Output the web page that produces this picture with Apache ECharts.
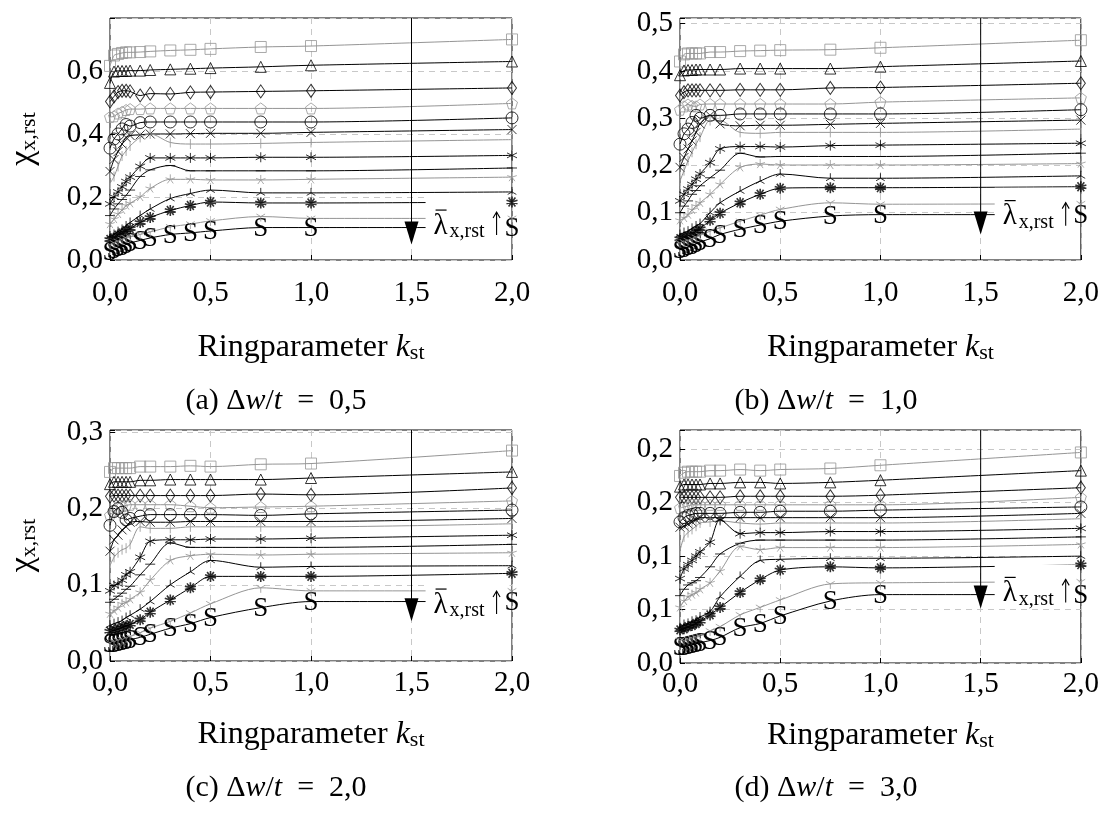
<!DOCTYPE html>
<html><head><meta charset="utf-8">
<script src="https://cdn.jsdelivr.net/npm/echarts@6/dist/echarts.min.js"></script>
<style>html,body{margin:0;padding:0;background:#fff}#c{width:1102px;height:817px}</style>
</head><body><div id="c"></div>
<script>
// ---------- data ----------
const kValues = [0, 0.02, 0.04, 0.06, 0.08, 0.1, 0.15, 0.2, 0.3, 0.4, 0.5, 0.75, 1, 2];
const markerKinds = ['square','triangle','diamond','pentagon','circle','cross','vbar','asterisk','hbar','star','mercedes','tenstar','mercedesFlipped','S'];
const markerGray = [true,false,false,true,false,false,true,false,false,true,false,false,true,false];

const chiA = [
 [0.616,0.649,0.654,0.657,0.659,0.659,0.660,0.662,0.665,0.667,0.670,0.676,0.679,0.700],
 [0.562,0.598,0.600,0.600,0.600,0.601,0.601,0.603,0.605,0.607,0.609,0.613,0.618,0.630],
 [0.503,0.519,0.533,0.537,0.537,0.535,0.522,0.528,0.527,0.532,0.533,0.535,0.537,0.546],
 [0.454,0.456,0.465,0.470,0.476,0.479,0.479,0.481,0.481,0.481,0.481,0.481,0.481,0.497],
 [0.355,0.384,0.400,0.416,0.430,0.425,0.436,0.438,0.438,0.438,0.438,0.438,0.438,0.451],
 [0.281,0.319,0.344,0.368,0.389,0.395,0.397,0.400,0.400,0.401,0.402,0.402,0.405,0.414],
 [0.243,0.265,0.297,0.330,0.346,0.362,0.389,0.400,0.373,0.368,0.368,0.370,0.373,0.382],
 [0.178,0.200,0.216,0.232,0.249,0.263,0.297,0.324,0.324,0.324,0.324,0.326,0.326,0.332],
 [0.141,0.162,0.178,0.192,0.205,0.222,0.265,0.286,0.300,0.283,0.283,0.283,0.283,0.292],
 [0.114,0.130,0.146,0.159,0.173,0.180,0.200,0.227,0.256,0.256,0.254,0.254,0.256,0.263],
 [0.076,0.081,0.090,0.097,0.108,0.119,0.141,0.162,0.195,0.211,0.222,0.213,0.213,0.216],
 [0.065,0.070,0.079,0.086,0.094,0.100,0.119,0.135,0.157,0.173,0.184,0.181,0.181,0.184],
 [0.049,0.054,0.059,0.065,0.070,0.073,0.081,0.089,0.105,0.114,0.124,0.138,0.132,0.132],
 [0.027,0.032,0.038,0.043,0.049,0.054,0.062,0.070,0.081,0.086,0.092,0.103,0.103,0.103]
];
const chiB = [
 [0.420,0.435,0.437,0.437,0.437,0.437,0.440,0.440,0.442,0.443,0.444,0.445,0.449,0.465],
 [0.391,0.401,0.402,0.402,0.403,0.403,0.403,0.403,0.405,0.405,0.405,0.405,0.409,0.421],
 [0.348,0.355,0.359,0.359,0.359,0.359,0.359,0.359,0.360,0.360,0.360,0.364,0.365,0.374],
 [0.318,0.325,0.329,0.326,0.325,0.329,0.330,0.330,0.330,0.330,0.330,0.330,0.334,0.343],
 [0.245,0.267,0.277,0.291,0.306,0.300,0.306,0.306,0.309,0.309,0.309,0.309,0.309,0.318],
 [0.196,0.217,0.235,0.252,0.270,0.288,0.306,0.288,0.284,0.285,0.285,0.287,0.289,0.296],
 [0.167,0.189,0.210,0.228,0.245,0.260,0.295,0.295,0.270,0.268,0.270,0.270,0.270,0.277],
 [0.125,0.139,0.150,0.160,0.171,0.182,0.206,0.235,0.240,0.240,0.239,0.242,0.243,0.247],
 [0.100,0.114,0.125,0.139,0.147,0.157,0.174,0.190,0.226,0.218,0.219,0.219,0.219,0.226],
 [0.084,0.089,0.096,0.106,0.114,0.121,0.139,0.160,0.196,0.203,0.201,0.201,0.201,0.204],
 [0.054,0.058,0.061,0.067,0.072,0.077,0.100,0.121,0.146,0.167,0.182,0.173,0.173,0.178],
 [0.045,0.048,0.051,0.055,0.061,0.066,0.084,0.099,0.121,0.139,0.152,0.153,0.153,0.155],
 [0.036,0.038,0.041,0.045,0.048,0.052,0.061,0.068,0.082,0.095,0.107,0.121,0.118,0.119],
 [0.022,0.024,0.027,0.030,0.034,0.038,0.045,0.054,0.065,0.074,0.082,0.093,0.096,0.096]
];
const chiC = [
 [0.248,0.253,0.253,0.253,0.253,0.253,0.255,0.255,0.255,0.256,0.255,0.258,0.259,0.276],
 [0.232,0.235,0.235,0.235,0.235,0.235,0.237,0.237,0.238,0.238,0.238,0.238,0.240,0.248],
 [0.216,0.217,0.217,0.217,0.217,0.217,0.217,0.217,0.217,0.217,0.217,0.219,0.218,0.227],
 [0.191,0.197,0.201,0.203,0.204,0.205,0.205,0.205,0.205,0.203,0.201,0.202,0.203,0.210],
 [0.178,0.196,0.200,0.195,0.185,0.187,0.190,0.192,0.192,0.192,0.192,0.191,0.193,0.198],
 [0.144,0.159,0.165,0.172,0.176,0.182,0.183,0.182,0.182,0.183,0.183,0.183,0.183,0.187],
 [0.125,0.136,0.142,0.146,0.148,0.153,0.176,0.174,0.174,0.176,0.176,0.176,0.176,0.180],
 [0.092,0.099,0.101,0.106,0.113,0.117,0.136,0.157,0.159,0.159,0.160,0.160,0.161,0.165],
 [0.077,0.081,0.085,0.089,0.094,0.098,0.113,0.127,0.155,0.149,0.149,0.149,0.149,0.153],
 [0.062,0.066,0.070,0.075,0.077,0.081,0.090,0.106,0.132,0.138,0.140,0.139,0.140,0.142],
 [0.047,0.049,0.051,0.053,0.057,0.060,0.068,0.078,0.100,0.117,0.132,0.123,0.124,0.125],
 [0.039,0.040,0.042,0.044,0.046,0.048,0.054,0.064,0.080,0.096,0.111,0.111,0.111,0.115],
 [0.024,0.025,0.027,0.028,0.030,0.032,0.037,0.043,0.052,0.063,0.075,0.096,0.092,0.092],
 [0.022,0.023,0.024,0.025,0.027,0.028,0.031,0.035,0.043,0.049,0.057,0.070,0.078,0.078]
];
const chiD = [
 [0.175,0.178,0.179,0.179,0.179,0.179,0.180,0.180,0.181,0.180,0.181,0.182,0.185,0.197],
 [0.165,0.167,0.167,0.167,0.167,0.167,0.168,0.168,0.169,0.169,0.168,0.169,0.171,0.180],
 [0.155,0.155,0.155,0.155,0.155,0.155,0.155,0.155,0.156,0.156,0.156,0.156,0.157,0.164],
 [0.145,0.146,0.147,0.148,0.148,0.148,0.148,0.148,0.148,0.148,0.148,0.148,0.148,0.155],
 [0.132,0.136,0.138,0.139,0.140,0.140,0.140,0.140,0.141,0.141,0.142,0.142,0.143,0.146],
 [0.127,0.128,0.130,0.132,0.134,0.136,0.136,0.136,0.136,0.136,0.136,0.136,0.136,0.140],
 [0.105,0.118,0.122,0.125,0.128,0.131,0.132,0.133,0.131,0.130,0.131,0.131,0.131,0.135],
 [0.079,0.088,0.092,0.096,0.100,0.104,0.113,0.134,0.121,0.122,0.122,0.123,0.123,0.126],
 [0.063,0.069,0.073,0.075,0.077,0.080,0.090,0.102,0.112,0.115,0.115,0.115,0.115,0.118],
 [0.052,0.058,0.062,0.064,0.066,0.069,0.075,0.086,0.109,0.106,0.108,0.108,0.108,0.111],
 [0.033,0.036,0.037,0.039,0.040,0.043,0.048,0.062,0.081,0.096,0.097,0.098,0.098,0.100],
 [0.031,0.032,0.034,0.035,0.037,0.039,0.045,0.052,0.066,0.078,0.087,0.090,0.089,0.092],
 [0.021,0.021,0.022,0.023,0.024,0.025,0.030,0.034,0.045,0.052,0.059,0.074,0.075,0.076],
 [0.015,0.015,0.016,0.017,0.018,0.019,0.021,0.024,0.033,0.037,0.044,0.058,0.064,0.064]
];

const xTickValues = [0, 0.5, 1, 1.5, 2];
const xTickLabels = ['0,0', '0,5', '1,0', '1,5', '2,0'];
const yTickValuesA = [0, 0.2, 0.4, 0.6];          const yTickLabelsA = ['0,0','0,2','0,4','0,6'];
const yTickValuesB = [0, 0.1, 0.2, 0.3, 0.4, 0.5]; const yTickLabelsB = ['0,0','0,1','0,2','0,3','0,4','0,5'];
const yTickValuesC = [0, 0.1, 0.2, 0.3];          const yTickLabelsC = ['0,0','0,1','0,2','0,3'];
const yTickValuesD = [0, 0.05, 0.1, 0.15, 0.2];   const yTickLabelsD = ['0,0','0,1','0,1','0,2','0,2'];
const yMaxValues = [0.768, 0.512, 0.303, 0.218];
const captionLetters = ['(a)', '(b)', '(c)', '(d)'];
const captionValues = ['0,5', '1,0', '2,0', '3,0'];
const arrowX = 1.5;
const arrowTipY = [0.049, 0.054, 0.052, 0.051];
const labelX = 1.57;
const labelY = [0.114, 0.096, 0.076, 0.067];

// ---------- styling ----------
const GRAY = '#959595';
const SERIF = "'Liberation Serif','DejaVu Serif',serif";
const SYMBOLS = {
  square: {symbol: 'rect', size: 11},
  triangle: {symbol: 'triangle', size: 11},
  diamond: {symbol: 'diamond', size: [9, 13]},
  pentagon: {symbol: 'path://M5,0L9.755,3.455L7.939,9.045L2.061,9.045L0.245,3.455Z', size: 11},
  circle: {symbol: 'circle', size: 12},
  cross: {symbol: 'path://M0,0L10,10M0,10L10,0', size: 9},
  vbar: {symbol: 'path://M0,0M5,0L5,10M10,10', size: 10},
  asterisk: {symbol: 'path://M5,0L5,10M0.67,2.5L9.33,7.5M0.67,7.5L9.33,2.5', size: 10},
  hbar: {symbol: 'path://M0,5L10,5M0,0M10,10', size: 10},
  star: {symbol: 'path://M5,5L5,0M5,5L9.755,3.455M5,5L7.939,9.045M5,5L2.061,9.045M5,5L0.245,3.455M0,0M10,10', size: 10},
  mercedes: {symbol: 'path://M5,5L5,0M5,5L0.67,7.5M5,5L9.33,7.5M0,0M10,10', size: 10},
  tenstar: {symbol: 'path://M5,0L5,10M2.061,9.045L7.939,0.955M0.245,6.545L9.755,3.455M9.755,6.545L0.245,3.455M7.939,9.045L2.061,0.955', size: 11, width: 1.6}
  ,mercedesFlipped: {symbol: 'path://M5,5L5,10M5,5L0.67,2.5M5,5L9.33,2.5M0,0M10,10', size: 10}
};

const panels = [chiA, chiB, chiC, chiD];
const yTickValues = [yTickValuesA, yTickValuesB, yTickValuesC, yTickValuesD];
const yTickLabels = [yTickLabelsA, yTickLabelsB, yTickLabelsC, yTickLabelsD];
const yIntervals = [0.2, 0.1, 0.1, 0.05];

const gridBoxes = [
  {left: 110, top: 18, width: 402, height: 242},
  {left: 680, top: 18, width: 402, height: 242},
  {left: 110, top: 430, width: 402, height: 231},
  {left: 680, top: 430, width: 402, height: 233}
];
const xLabelMargin = [19, 19, 8, 7];
const xNameGap = [72, 72, 58, 57];

function lookupLabel(vals, labels, v) {
  for (let i = 0; i < vals.length; i++) if (Math.abs(vals[i] - v) < 1e-6) return labels[i];
  return '';
}

const grids = gridBoxes.map(g => Object.assign({show: true, borderColor: '#000', borderWidth: 1, backgroundColor: 'transparent', containLabel: false}, g));

const xAxes = [], yAxes = [], series = [];
for (let p = 0; p < 4; p++) {
  xAxes.push({
    type: 'value', gridIndex: p, min: 0, max: 2, interval: 0.5,
    axisLine: {show: false},
    axisTick: {show: true, inside: true, length: 5, lineStyle: {color: '#000', width: 1}},
    splitLine: {show: true, lineStyle: {color: '#c8c8c8', width: 1, type: [6, 5]}},
    axisLabel: {margin: xLabelMargin[p], color: '#000', fontFamily: SERIF, fontSize: 29,
      formatter: v => lookupLabel(xTickValues, xTickLabels, v)},
    name: '{n|Ringparameter }{i|k}{s|st}',
    nameLocation: 'middle', nameGap: xNameGap[p],
    nameTextStyle: {rich: {
      n: {fontFamily: SERIF, fontSize: 32, color: '#000'},
      i: {fontFamily: SERIF, fontSize: 32, fontStyle: 'italic', color: '#000'},
      s: {fontFamily: SERIF, fontSize: 22, color: '#000', verticalAlign: 'bottom', lineHeight: 15}
    }}
  });
  const yA = {
    type: 'value', gridIndex: p, min: 0, max: yMaxValues[p], interval: yIntervals[p],
    axisLine: {show: false},
    axisTick: {show: true, inside: true, length: 5, lineStyle: {color: '#000', width: 1}},
    splitLine: {show: true, lineStyle: {color: '#c8c8c8', width: 1, type: [6, 5]}},
    axisLabel: {margin: 7, color: '#000', fontFamily: SERIF, fontSize: 29,
      formatter: (v => lookupLabel(yTickValues[p], yTickLabels[p], v))}
  };
  if (p === 0 || p === 2) {
    yA.name = '{c|χ}{s|x,rst}';
    yA.nameLocation = 'middle';
    yA.nameGap = 70;
    yA.nameRotate = 90;
    yA.nameTextStyle = {rich: {
      c: {fontFamily: SERIF, fontSize: 34, color: '#000'},
      s: {fontFamily: SERIF, fontSize: 22, color: '#000', verticalAlign: 'bottom', lineHeight: 14}
    }};
  }
  yAxes.push(yA);

  const data = panels[p];
  for (let i = 0; i < data.length; i++) {
    const color = markerGray[i] ? GRAY : '#000';
    const pts = kValues.map((k, j) => [k, data[i][j]]);
    series.push({
      type: 'line', xAxisIndex: p, yAxisIndex: p, data: pts,
      symbol: 'none', showSymbol: false, smooth: 0.3, silent: true, animation: false,
      lineStyle: {color: color, width: 1}, z: 2
    });
    if (markerKinds[i] === 'S') {
      // text marks "S", placed through the axis scales
      series.push({
        type: 'custom', xAxisIndex: p, yAxisIndex: p, data: pts, silent: true, animation: false, z: 4, clip: false,
        renderItem: function (params, api) {
          const c = api.coord([api.value(0), api.value(1)]);
          return {type: 'text', x: c[0], y: c[1] + 1,
            style: {text: 'S', fontFamily: SERIF, fontSize: 27, fill: '#000',
              textAlign: 'center', textVerticalAlign: 'middle'}};
        }
      });
    } else {
      const sym = SYMBOLS[markerKinds[i]];
      series.push({
        type: 'scatter', xAxisIndex: p, yAxisIndex: p, data: pts,
        symbol: sym.symbol, symbolSize: sym.size, silent: true, animation: false, z: 4,
        itemStyle: {color: 'rgba(0,0,0,0)', borderColor: color, borderWidth: sym.width || 1}
      });
    }
  }

  // arrow + label annotation
  series.push({
    type: 'custom', xAxisIndex: p, yAxisIndex: p, silent: true, animation: false, z: 3, clip: false,
    data: [[arrowX, arrowTipY[p], labelX, labelY[p], yMaxValues[p]]],
    renderItem: function (params, api) {
      const top = api.coord([api.value(0), api.value(4)]);
      const tip = api.coord([api.value(0), api.value(1)]);
      const lab = api.coord([api.value(2), api.value(3)]);
      const x0 = lab[0], yc = lab[1];
      const ax = x0 + 71;
      return {type: 'group', children: [
        {type: 'rect', shape: {x: x0, y: yc - 27, width: 84, height: 43}, style: {fill: '#fff'}},
        {type: 'line', shape: {x1: top[0], y1: top[1], x2: tip[0], y2: tip[1] - 12}, style: {stroke: '#000', lineWidth: 1}},
        {type: 'polygon', shape: {points: [[tip[0] - 7, tip[1] - 23], [tip[0] + 7, tip[1] - 23], [tip[0], tip[1]]]}, style: {fill: '#000'}},
        {type: 'text', x: x0 + 8, y: yc + 2, style: {text: 'λ', fontFamily: SERIF, fontSize: 29, fill: '#000', textAlign: 'left', textVerticalAlign: 'middle'}},
        {type: 'line', shape: {x1: x0 + 10, y1: yc - 14, x2: x0 + 21, y2: yc - 14}, style: {stroke: '#000', lineWidth: 1.2}},
        {type: 'text', x: x0 + 24, y: yc + 8, style: {text: 'x,rst', fontFamily: SERIF, fontSize: 20, fill: '#000', textAlign: 'left', textVerticalAlign: 'middle'}},
        {type: 'polyline', shape: {points: [[ax, yc + 11], [ax, yc - 12]]}, style: {stroke: '#000', lineWidth: 1.1, fill: 'none'}},
        {type: 'polyline', shape: {points: [[ax - 3.5, yc - 6], [ax, yc - 12], [ax + 3.5, yc - 6]]}, style: {stroke: '#000', lineWidth: 1.1, fill: 'none'}}
      ]};
    }
  });
}

const captionPos = [[276, 401], [826, 401], [276, 788], [826, 788]];
const graphics = captionPos.map((c, p) => ({
  type: 'text', x: c[0], y: c[1],
  style: {
    text: '{n|' + captionLetters[p] + ' Δ}{i|w}{n|/}{i|t}{n|  =  ' + captionValues[p] + '}',
    textAlign: 'center', textVerticalAlign: 'middle',
    rich: {
      n: {fontFamily: SERIF, fontSize: 30, fill: '#000', color: '#000'},
      i: {fontFamily: SERIF, fontSize: 30, fontStyle: 'italic', fill: '#000', color: '#000'}
    }
  }
}));

const chart = echarts.init(document.getElementById('c'), null, {renderer: 'canvas'});
chart.setOption({
  backgroundColor: '#fff',
  animation: false,
  grid: grids,
  xAxis: xAxes,
  yAxis: yAxes,
  series: series,
  graphic: {elements: graphics}
});
</script>
</body></html>
